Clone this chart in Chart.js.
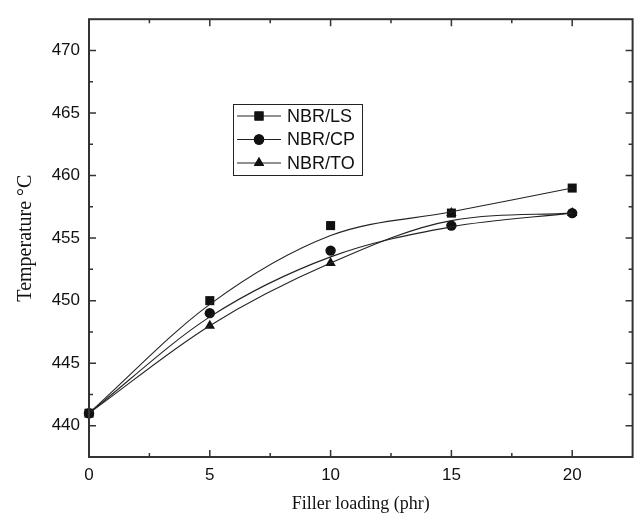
<!DOCTYPE html>
<html><head><meta charset="utf-8">
<script src="https://cdn.jsdelivr.net/npm/chart.js@4"></script>
<style>html,body{margin:0;padding:0;background:#fff}#wrap{width:639px;height:515px;position:relative}</style>
</head><body><div id="wrap"><canvas id="c" width="639" height="515"></canvas></div>
<script>
// Data
const loading = [0, 5, 10, 15, 20];
const lsPoints = [441, 450, 456, 457, 459];
const cpPoints = [441, 449, 454, 456, 457];
const toPoints = [441, 448, 453, 457, 457];
// fitted smooth curves
const lsCurve = [441, 449.7, 455.2, 457.1, 459];
const cpCurve = [441, 448.7, 453.5, 455.9, 457];
const toCurve = [441, 448.0, 453.0, 456.4, 457];
const seriesNames = ['NBR/LS', 'NBR/CP', 'NBR/TO'];
const markerStyles = ['rect', 'circle', 'triangle'];
const markerRadius = [6.4, 5.2, 6];
const xTicks = [0, 5, 10, 15, 20];
const xMinor = [2.5, 7.5, 12.5, 17.5];
const yTicks = [440, 445, 450, 455, 460, 465, 470];
const yMinor = [437.5, 442.5, 447.5, 452.5, 457.5, 462.5, 467.5];

const pts = (xs, ys) => xs.map((x, i) => ({x: x, y: ys[i]}));
const ink = '#111';
const curves = [lsCurve, cpCurve, toCurve];
const points = [lsPoints, cpPoints, toPoints];

const datasets = [];
curves.forEach((c, i) => datasets.push({
  label: seriesNames[i] + ' fit', data: pts(loading, c), showLine: true,
  borderColor: '#222', borderWidth: 1.1, pointRadius: 0, fill: false,
  cubicInterpolationMode: 'monotone', clip: false
}));
points.forEach((p, i) => datasets.push({
  label: seriesNames[i], data: pts(loading, p), showLine: false,
  pointStyle: markerStyles[i], pointRadius: markerRadius[i],
  backgroundColor: ink, borderColor: ink, borderWidth: 0, clip: false
}));

const frame = {
  id: 'frame',
  afterDraw(chart) {
    const ctx = chart.ctx, a = chart.chartArea;
    const xs = chart.scales.x, ys = chart.scales.y;
    ctx.save();
    ctx.strokeStyle = '#333';
    ctx.lineWidth = 1.5;
    ctx.beginPath();
    xTicks.forEach(v => { const p = xs.getPixelForValue(v);
      ctx.moveTo(p, a.bottom); ctx.lineTo(p, a.bottom - 7);
      ctx.moveTo(p, a.top); ctx.lineTo(p, a.top + 7); });
    xMinor.forEach(v => { const p = xs.getPixelForValue(v);
      ctx.moveTo(p, a.bottom); ctx.lineTo(p, a.bottom - 4);
      ctx.moveTo(p, a.top); ctx.lineTo(p, a.top + 4); });
    yTicks.forEach(v => { const p = ys.getPixelForValue(v);
      ctx.moveTo(a.left, p); ctx.lineTo(a.left + 7, p);
      ctx.moveTo(a.right, p); ctx.lineTo(a.right - 7, p); });
    yMinor.forEach(v => { const p = ys.getPixelForValue(v);
      ctx.moveTo(a.left, p); ctx.lineTo(a.left + 4, p);
      ctx.moveTo(a.right, p); ctx.lineTo(a.right - 4, p); });
    ctx.stroke();
    ctx.lineWidth = 2;
    ctx.strokeRect(a.left, a.top, a.right - a.left, a.bottom - a.top);
    ctx.restore();

    // legend box
    const bx = 233, by = 104, bw = 129, bh = 71;
    ctx.save();
    ctx.fillStyle = '#fff';
    ctx.fillRect(bx, by, bw, bh);
    ctx.strokeStyle = '#222'; ctx.lineWidth = 1;
    ctx.strokeRect(bx + 0.5, by + 0.5, bw, bh);
    ctx.font = '18px "Liberation Sans", Arial, sans-serif';
    ctx.textBaseline = 'middle';
    ctx.fillStyle = ink;
    seriesNames.forEach((n, i) => {
      const cy = 116 + i * 23.5;
      ctx.strokeStyle = '#222'; ctx.lineWidth = 1;
      ctx.beginPath(); ctx.moveTo(237, cy); ctx.lineTo(281, cy); ctx.stroke();
      Chart.helpers.drawPoint(ctx, {pointStyle: markerStyles[i], radius: markerRadius[i], borderWidth: 0}, 259, cy);
      ctx.fill();
      ctx.fillText(n, 287, cy + 1);
    });
    ctx.restore();
  }
};

new Chart(document.getElementById('c'), {
  type: 'scatter',
  data: {datasets: datasets},
  options: {
    responsive: false, animation: false,
    layout: {padding: {top: 12, right: 2, left: 0, bottom: 0}},
    plugins: {legend: {display: false}, tooltip: {enabled: false}},
    scales: {
      x: {
        type: 'linear', min: 0, max: 22.5,
        afterBuildTicks: s => { s.ticks = xTicks.map(v => ({value: v})); },
        afterFit: s => { s.height = 58; },
        grid: {display: false, drawTicks: false},
        border: {display: false},
        ticks: {padding: 8, color: ink, font: {family: '"Liberation Sans", Arial, sans-serif', size: 17}, maxRotation: 0},
        title: {display: true, text: 'Filler loading (phr)', color: ink,
          font: {family: '"Liberation Serif", "Times New Roman", serif', size: 18}, padding: {top: 0, bottom: 0}}
      },
      y: {
        type: 'linear', min: 437.5, max: 472.5,
        afterBuildTicks: s => { s.ticks = yTicks.map(v => ({value: v})); },
        afterFit: s => { s.width = 89; },
        grid: {display: false, drawTicks: false},
        border: {display: false},
        ticks: {padding: 9, color: ink, font: {family: '"Liberation Sans", Arial, sans-serif', size: 17}},
        title: {display: true, text: 'Temperature °C', color: ink,
          font: {family: '"Liberation Serif", "Times New Roman", serif', size: 20}, padding: {top: 14, bottom: 0}}
      }
    }
  },
  plugins: [frame]
});
</script></body></html>
